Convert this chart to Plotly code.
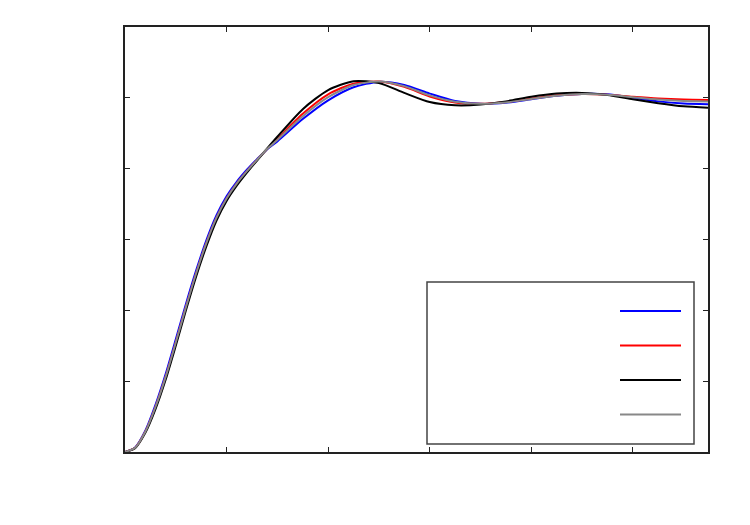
import plotly.graph_objects as go

t_rise = [0, 0.1, 0.2, 0.3, 0.4, 0.5, 0.6, 0.7, 0.8, 0.9, 1.0, 1.1, 1.2, 1.3, 1.4]
t_tail = [1.5, 1.75, 2.0, 2.25, 2.5, 2.75, 3.0, 3.25, 3.5, 3.75, 4.0, 4.25, 4.5, 4.75, 5.0, 5.25, 5.5, 5.74]
t = t_rise + t_tail

blue_y = [0, 0.013, 0.060, 0.133, 0.220, 0.318, 0.418, 0.512, 0.597, 0.668, 0.722, 0.763, 0.797, 0.827, 0.855,
          0.877, 0.940, 0.993, 1.030, 1.045, 1.036, 1.012, 0.991, 0.983, 0.986, 0.996, 1.006, 1.011, 1.010, 1.0, 0.99, 0.984, 0.982]
red_y = [0, 0.012, 0.057, 0.127, 0.212, 0.309, 0.409, 0.504, 0.589, 0.661, 0.716, 0.758, 0.793, 0.825, 0.856,
         0.884, 0.955, 1.010, 1.040, 1.046, 1.031, 1.004, 0.987, 0.983, 0.988, 0.998, 1.007, 1.011, 1.009, 1.003, 0.998, 0.995, 0.994]
black_y = [0, 0.011, 0.054, 0.121, 0.204, 0.300, 0.400, 0.495, 0.580, 0.653, 0.709, 0.752, 0.789, 0.823, 0.857,
           0.890, 0.968, 1.022, 1.047, 1.042, 1.014, 0.988, 0.979, 0.981, 0.990, 1.003, 1.012, 1.014, 1.008, 0.996, 0.985, 0.976, 0.972]
gray_y = [0, 0.012, 0.057, 0.127, 0.212, 0.309, 0.409, 0.504, 0.589, 0.661, 0.716, 0.758, 0.793, 0.825, 0.856,
          0.881, 0.948, 1.002, 1.036, 1.046, 1.033, 1.007, 0.989, 0.983, 0.987, 0.997, 1.006, 1.011, 1.009, 1.002, 0.995, 0.991, 0.990]

series = [("", blue_y, "#0000ff"), ("", red_y, "#ff0000"), ("", black_y, "#000000"), ("", gray_y, "#888888")]

fig = go.Figure()
for name, ys, col in series:
    fig.add_trace(go.Scatter(x=t, y=ys, mode="lines", name=name, showlegend=False,
                             line=dict(color=col, width=2, shape="spline", smoothing=0.7)))

# legend box and samples (labels empty as in reference)
fig.add_shape(type="rect", xref="paper", yref="paper",
              x0=(427 - 125) / 583, x1=(694 - 125) / 583,
              y0=(452 - 444) / 425, y1=(452 - 282) / 425,
              line=dict(color="#444444", width=1.5), fillcolor="white", layer="below")
for i, (name, ys, col) in enumerate(series):
    yy = (452 - (311 + i * 34.5)) / 425
    fig.add_shape(type="line", xref="paper", yref="paper",
                  x0=(620 - 125) / 583, x1=(681 - 125) / 583, y0=yy, y1=yy,
                  line=dict(color=col, width=2))

axis_common = dict(showgrid=False, zeroline=False, showline=True, linecolor="#222222", linewidth=1.5,
                   mirror="ticks", ticks="inside", ticklen=5, tickcolor="#222222",
                   showticklabels=False)
fig.update_xaxes(range=[0, 5.74], tick0=0, dtick=1, **axis_common)
fig.update_yaxes(range=[0, 1.2], tick0=0, dtick=0.2, **axis_common)
fig.update_layout(width=750, height=525, margin=dict(l=125, r=42, t=27, b=73),
                  plot_bgcolor="white", paper_bgcolor="white", showlegend=False)
fig.write_html("out.html")
